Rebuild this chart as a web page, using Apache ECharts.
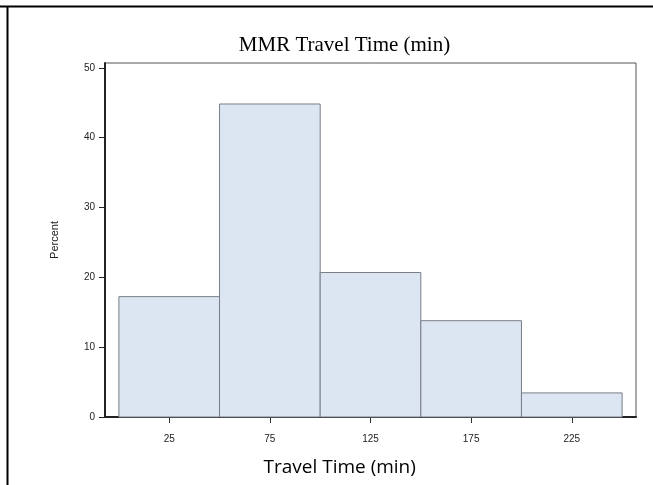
<!DOCTYPE html>
<html>
<head>
<meta charset="utf-8">
<script src="https://cdn.jsdelivr.net/npm/echarts@6/dist/echarts.min.js"></script>
<style>
  html, body { margin: 0; padding: 0; background: #fff; }
  #chart { width: 653px; height: 485px; }
</style>
</head>
<body>
<div id="chart"></div>
<script>
// Histogram bins (minutes) and the share of trips in each bin (%)
const binStarts = [0, 50, 100, 150, 200];
const binEnds = [50, 100, 150, 200, 250];
const percents = [17.24, 44.83, 20.69, 13.79, 3.45];
const xTickValues = [25, 75, 125, 175, 225];
const yTickValues = [0, 10, 20, 30, 40, 50];

const chart = echarts.init(document.getElementById('chart'), null, { renderer: 'canvas' });

const binData = binStarts.map((s, i) => [s, binEnds[i], percents[i]]);

chart.setOption({
  animation: false,
  backgroundColor: '#ffffff',
  title: {
    text: 'MMR Travel Time (min)',
    left: 339.5,
    textAlign: 'center',
    top: 30,
    textStyle: {
      fontFamily: 'Liberation Serif',
      fontWeight: 'normal',
      fontSize: 21,
      color: '#000'
    }
  },
  graphic: [
    { type: 'line', shape: { x1: 0, y1: 6.5, x2: 653, y2: 6.5 }, style: { stroke: '#000', lineWidth: 2 } },
    { type: 'line', shape: { x1: 7.5, y1: 6, x2: 7.5, y2: 485 }, style: { stroke: '#000', lineWidth: 2 } },
    {
      type: 'text', left: 339.5 - 76, top: 458,
      style: { text: 'Travel Time (min)', fontFamily: 'Open Sans', fontSize: 19, fill: '#000' }
    }
  ],
  grid: {
    left: 105, right: 17, top: 63, bottom: 68,
    show: true, borderColor: '#555', borderWidth: 1, backgroundColor: 'transparent'
  },
  xAxis: {
    type: 'value',
    min: -6.9,
    max: 256.9,
    splitLine: { show: false },
    axisLine: { show: true, onZero: false, lineStyle: { color: '#222', width: 2 } },
    axisTick: { show: true, length: 6, customValues: xTickValues, lineStyle: { color: '#333' } },
    axisLabel: {
      customValues: xTickValues, margin: 17,
      fontFamily: 'Liberation Sans', fontSize: 10, color: '#222'
    }
  },
  yAxis: {
    type: 'value',
    min: 0,
    max: 50.7,
    name: 'Percent',
    nameLocation: 'middle',
    nameGap: 45,
    nameRotate: 90,
    nameTextStyle: { fontFamily: 'Liberation Sans', fontSize: 11, color: '#222' },
    splitLine: { show: false },
    axisLine: { show: true, onZero: false, lineStyle: { color: '#222', width: 2 } },
    axisTick: { show: true, length: 6, customValues: yTickValues, lineStyle: { color: '#222' } },
    axisLabel: {
      customValues: yTickValues, margin: 10,
      fontFamily: 'Liberation Sans', fontSize: 10, color: '#222'
    }
  },
  series: [{
    type: 'custom',
    data: binData,
    encode: { x: [0, 1], y: 2 },
    renderItem: function (params, api) {
      const p0 = api.coord([api.value(0), api.value(2)]);
      const p1 = api.coord([api.value(1), 0]);
      return {
        type: 'rect',
        shape: { x: p0[0], y: p0[1], width: p1[0] - p0[0], height: p1[1] - p0[1] },
        style: { fill: '#dce6f2', stroke: '#787d85', lineWidth: 1 }
      };
    }
  }]
});
</script>
</body>
</html>
